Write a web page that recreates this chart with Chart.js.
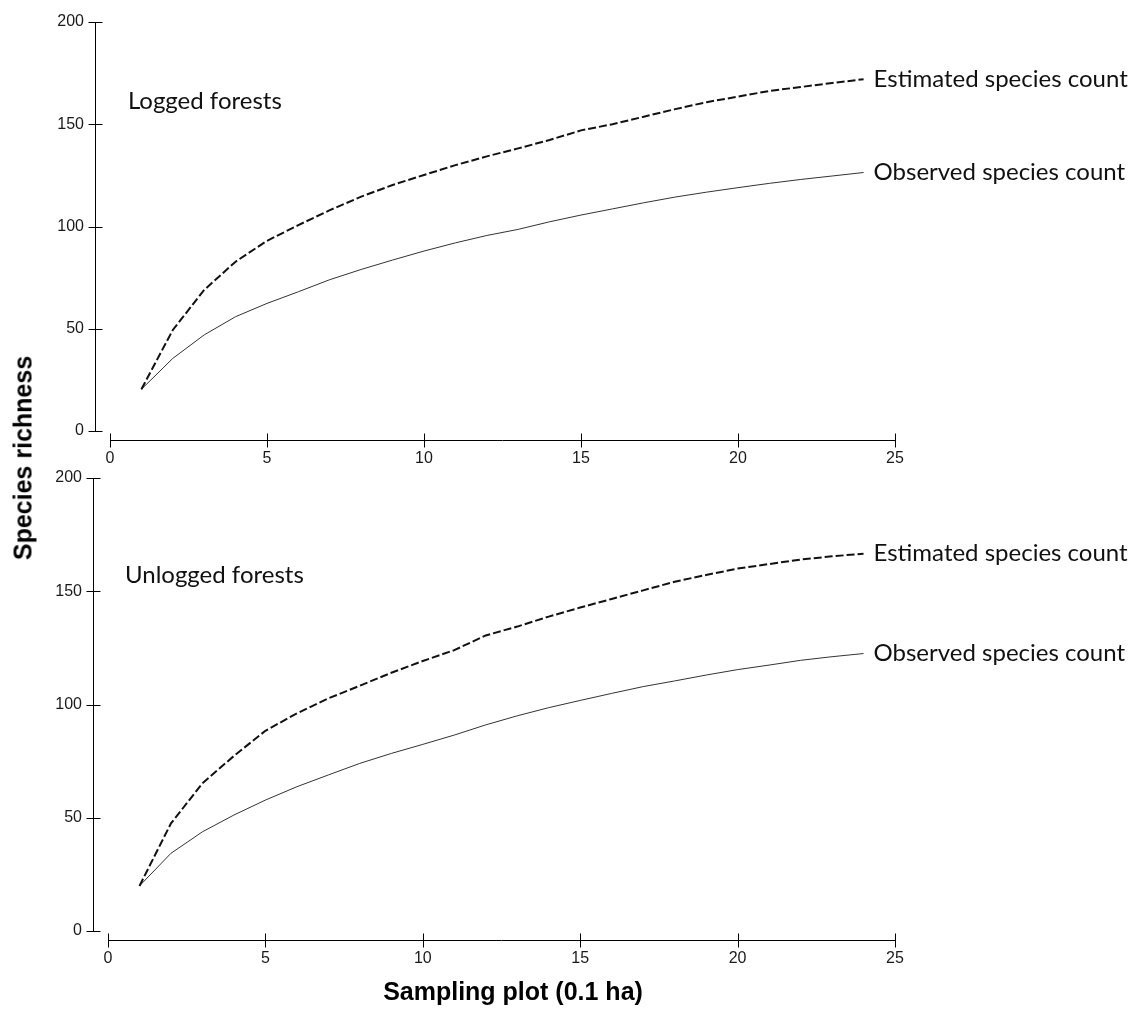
<!DOCTYPE html>
<html>
<head>
<meta charset="utf-8">
<title>Species accumulation curves</title>
<script src="https://cdn.jsdelivr.net/npm/chart.js@4.4.1/dist/chart.umd.min.js"></script>
<style>
  body { margin: 0; background: #fff; }
  #wrap { position: relative; width: 1133px; height: 1010px; overflow: hidden; }
  .panel { position: absolute; left: 0; width: 1133px; }
  #top { top: 0; height: 470px; }
  #bottom { top: 468px; height: 542px; }
  .axis-title {
    position: absolute;
    font: bold 25px "Liberation Sans", Arial, sans-serif;
    line-height: 1;
    white-space: nowrap;
    color: #000;
    transform: translate(-50%, -50%);
  }
  #ytitle { left: 23px; top: 458px; transform: translate(-50%, -50%) rotate(-90deg); }
  #xtitle { left: 513px; top: 991px; }
</style>
</head>
<body>
<div id="wrap">
  <div class="panel" id="top"><canvas id="logged"></canvas></div>
  <div class="panel" id="bottom"><canvas id="unlogged"></canvas></div>
  <div class="axis-title" id="ytitle">Species richness</div>
  <div class="axis-title" id="xtitle">Sampling plot (0.1 ha)</div>
</div>
<script>
// sampling plots (0.1 ha each)
const plots = [1, 2, 3, 4, 5, 6, 7, 8, 9, 10, 11, 12, 13, 14, 15, 16, 17, 18, 19, 20, 21, 22, 23, 24];

const loggedEstimated = [20.4, 49.4, 69, 82.8, 93, 100.7, 108, 114.6, 120.3, 125.2, 130, 134.3, 138.2, 142.3, 147, 150, 153.7, 157.4, 160.8, 163.5, 166.3, 168.2, 170.2, 172];
const loggedObserved = [20.4, 35.5, 47, 55.9, 62.4, 68.1, 74, 79, 83.6, 88, 92, 95.6, 98.6, 102.3, 105.6, 108.6, 111.6, 114.4, 116.8, 119, 121.1, 123, 124.7, 126.4];

const unloggedEstimated = [19.9, 47.5, 65.2, 77.3, 88.4, 96.1, 102.7, 108.3, 114, 119.2, 124, 130.5, 134.4, 138.8, 142.8, 146.6, 150.4, 154.2, 157.2, 160, 162, 164, 165.4, 166.6];
const unloggedObserved = [19.9, 34.3, 43.8, 51.2, 57.8, 63.7, 68.9, 74, 78.4, 82.4, 86.5, 91, 95, 98.6, 101.8, 104.9, 107.9, 110.4, 113, 115.4, 117.4, 119.5, 121.1, 122.5];

const seriesNames = ['Estimated species count', 'Observed species count'];
const xTicks = [0, 5, 10, 15, 20, 25];
const yTicks = [0, 50, 100, 150, 200];

// axes in the original sit a little away from the plot area, with ticks crossing them
const detachedAxes = {
  id: 'detachedAxes',
  afterDraw(chart, args, opts) {
    const {ctx, chartArea, scales: {x, y}} = chart;
    const ax = Math.round(chartArea.left - 15) + 0.5;
    const ay = Math.round(chartArea.bottom + 9) + 0.5;
    ctx.save();
    ctx.strokeStyle = '#000';
    ctx.lineWidth = 1;
    ctx.beginPath();
    ctx.moveTo(ax, y.getPixelForValue(y.max));
    ctx.lineTo(ax, y.getPixelForValue(y.min));
    y.ticks.forEach(t => {
      const py = Math.round(y.getPixelForValue(t.value)) + 0.5;
      ctx.moveTo(ax - 7, py);
      ctx.lineTo(ax + 7, py);
    });
    ctx.moveTo(x.getPixelForValue(x.min), ay);
    ctx.lineTo(x.getPixelForValue(x.max), ay);
    x.ticks.forEach(t => {
      const px = Math.round(x.getPixelForValue(t.value)) + 0.5;
      ctx.moveTo(px, ay - 7);
      ctx.lineTo(px, ay + 7);
    });
    ctx.stroke();

    // curve labels at the end of each line + panel name
    ctx.font = '24px Lato, "Open Sans", sans-serif';
    ctx.fillStyle = '#111';
    ctx.textAlign = 'left';
    ctx.textBaseline = 'middle';
    chart.data.datasets.forEach((ds, i) => {
      const pts = chart.getDatasetMeta(i).data;
      const last = pts[pts.length - 1];
      ctx.fillText(ds.label, last.x + 10, last.y);
    });
    ctx.fillText(opts.name, x.getPixelForValue(opts.at[0]), y.getPixelForValue(opts.at[1]));
    ctx.restore();
  }
};

// invisible grid whose tick length only pushes the labels away from the plot
const hiddenGrid = len => ({
  display: true,
  drawOnChartArea: false,
  drawTicks: true,
  tickLength: len,
  color: 'rgba(0,0,0,0)'
});

function makeChart(id, estimated, observed, name, nameAt, leftW, bottomH, padTop) {
  return new Chart(document.getElementById(id), {
    type: 'line',
    data: {
      datasets: [
        {
          label: seriesNames[0],
          data: plots.map((p, i) => ({x: p, y: estimated[i]})),
          borderColor: '#111',
          borderWidth: 2,
          borderDash: [8, 3],
          pointRadius: 0,
          tension: 0
        },
        {
          label: seriesNames[1],
          data: plots.map((p, i) => ({x: p, y: observed[i]})),
          borderColor: '#333',
          borderWidth: 1,
          pointRadius: 0,
          tension: 0
        }
      ]
    },
    options: {
      responsive: true,
      maintainAspectRatio: false,
      animation: false,
      events: [],
      layout: {padding: {top: padTop, right: 238, bottom: 0, left: 0}},
      plugins: {
        legend: {display: false},
        tooltip: {enabled: false},
        detachedAxes: {name: name, at: nameAt}
      },
      scales: {
        x: {
          type: 'linear',
          min: 0,
          max: 25,
          afterBuildTicks: s => { s.ticks = xTicks.map(v => ({value: v})); },
          afterFit: s => { s.height = bottomH; },
          grid: hiddenGrid(18),
          border: {display: false},
          ticks: {
            padding: 0,
            color: '#1a1a1a',
            font: {family: '"Liberation Sans", Arial, sans-serif', size: 16}
          }
        },
        y: {
          min: 0,
          max: 200,
          afterBuildTicks: s => { s.ticks = yTicks.map(v => ({value: v})); },
          afterFit: s => { s.width = leftW; },
          grid: hiddenGrid(26),
          border: {display: false},
          ticks: {
            padding: 0,
            color: '#1a1a1a',
            font: {family: '"Liberation Sans", Arial, sans-serif', size: 16}
          }
        }
      }
    },
    plugins: [detachedAxes]
  });
}

makeChart('logged', loggedEstimated, loggedObserved, 'Logged forests', [0.57, 161], 110, 39, 22);
makeChart('unlogged', unloggedEstimated, unloggedObserved, 'Unlogged forests', [0.54, 157], 108, 79, 10);
</script>
</body>
</html>
